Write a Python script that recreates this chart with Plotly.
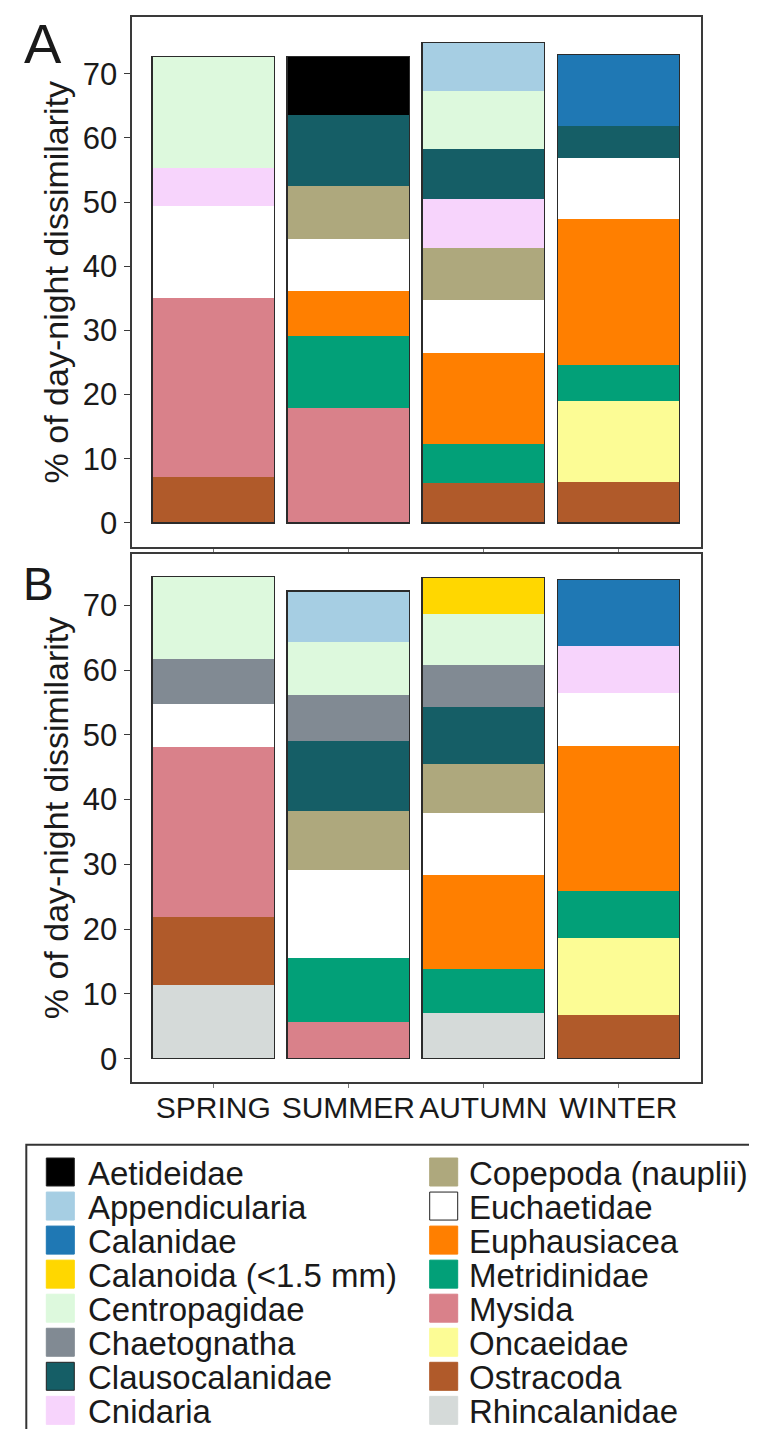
import plotly.graph_objects as go

seasons = ["SPRING", "SUMMER", "AUTUMN", "WINTER"]

taxa = ["Aetideidae", "Appendicularia", "Calanidae", "Calanoida (<1.5 mm)",
        "Centropagidae", "Chaetognatha", "Clausocalanidae", "Cnidaria",
        "Copepoda (nauplii)", "Euchaetidae", "Euphausiacea", "Metridinidae",
        "Mysida", "Oncaeidae", "Ostracoda", "Rhincalanidae"]

colors = ["#000000", "#a6cee3", "#1f78b4", "#ffd700",
          "#ddf9dd", "#818a93", "#155e66", "#f7d4fc",
          "#aea87d", "#ffffff", "#ff7f00", "#02a078",
          "#d9818a", "#fcfc95", "#b05a2a", "#d5dad9"]

# Panel A: % of day-night dissimilarity per taxon, [SPRING, SUMMER, AUTUMN, WINTER]
panel_a = {
    "Aetideidae":          [0.0, 9.1, 0.0, 0.0],
    "Appendicularia":      [0.0, 0.0, 7.6, 0.0],
    "Calanidae":           [0.0, 0.0, 0.0, 11.1],
    "Calanoida (<1.5 mm)": [0.0, 0.0, 0.0, 0.0],
    "Centropagidae":       [17.4, 0.0, 9.0, 0.0],
    "Chaetognatha":        [0.0, 0.0, 0.0, 0.0],
    "Clausocalanidae":     [0.0, 11.1, 7.9, 5.1],
    "Cnidaria":            [5.9, 0.0, 7.6, 0.0],
    "Copepoda (nauplii)":  [0.0, 8.3, 8.0, 0.0],
    "Euchaetidae":         [14.3, 8.1, 8.3, 9.5],
    "Euphausiacea":        [0.0, 6.9, 14.2, 22.7],
    "Metridinidae":        [0.0, 11.3, 6.1, 5.6],
    "Mysida":              [27.9, 17.9, 0.0, 0.0],
    "Oncaeidae":           [0.0, 0.0, 0.0, 12.6],
    "Ostracoda":           [7.2, 0.0, 6.2, 6.4],
    "Rhincalanidae":       [0.0, 0.0, 0.0, 0.0],
}

# Panel B
panel_b = {
    "Aetideidae":          [0.0, 0.0, 0.0, 0.0],
    "Appendicularia":      [0.0, 7.8, 0.0, 0.0],
    "Calanidae":           [0.0, 0.0, 0.0, 10.3],
    "Calanoida (<1.5 mm)": [0.0, 0.0, 5.7, 0.0],
    "Centropagidae":       [12.7, 8.2, 7.8, 0.0],
    "Chaetognatha":        [6.9, 7.2, 6.5, 0.0],
    "Clausocalanidae":     [0.0, 10.7, 8.8, 0.0],
    "Cnidaria":            [0.0, 0.0, 0.0, 7.2],
    "Copepoda (nauplii)":  [0.0, 9.1, 7.5, 0.0],
    "Euchaetidae":         [6.7, 13.6, 9.6, 8.2],
    "Euphausiacea":        [0.0, 0.0, 14.5, 22.4],
    "Metridinidae":        [0.0, 9.9, 6.8, 7.2],
    "Mysida":              [26.2, 5.7, 0.0, 0.0],
    "Oncaeidae":           [0.0, 0.0, 0.0, 11.9],
    "Ostracoda":           [10.5, 0.0, 0.0, 6.8],
    "Rhincalanidae":       [11.4, 0.0, 7.1, 0.0],
}

yticks = [0, 10, 20, 30, 40, 50, 60, 70]

W, H = 757, 1429
FONT = "Liberation Sans, Arial, Helvetica, sans-serif"
TXT = "#1a1a1a"


def px(x):
    return x / W


def py(y):
    return 1 - y / H


fig = go.Figure()
color_of = dict(zip(taxa, colors))

# stacked segments: alphabetical from top -> add in reverse order (first trace at bottom)
for data, xa, ya in [(panel_a, "x", "y"), (panel_b, "x2", "y2")]:
    for name in reversed(taxa):
        vals = data[name]
        xs = [s for s, v in zip(seasons, vals) if v > 0]
        ys = [v for v in vals if v > 0]
        if not ys:
            continue
        fig.add_trace(go.Bar(
            x=xs, y=ys, name=name, xaxis=xa, yaxis=ya,
            marker=dict(color=color_of[name], line=dict(width=0)),
            showlegend=False,
        ))

# outline of each whole bar (totals), drawn on overlaying axes
for data, xa, ya in [(panel_a, "x3", "y3"), (panel_b, "x4", "y4")]:
    totals = [round(sum(data[n][i] for n in taxa), 2) for i in range(len(seasons))]
    fig.add_trace(go.Bar(
        x=seasons, y=totals, xaxis=xa, yaxis=ya, name="total",
        marker=dict(color="rgba(0,0,0,0)", line=dict(color="#2b2b2b", width=1.2)),
        showlegend=False, hoverinfo="skip",
    ))

xdom = [px(124.3), px(692.7)]
ydom_a = [py(539.0), py(9.3)]
ydom_b = [py(1074.3), py(545.7)]
xrange = [-0.6, 3.61]
yrange_a = [-3.74, 78.78]
yrange_b = [-3.64, 77.97]

axis_common = dict(
    showline=True, linecolor="#3a3a3a", linewidth=1.5, mirror=True,
    showgrid=False, zeroline=False,
)
xcommon = dict(axis_common, domain=xdom, range=xrange, type="category",
               categoryorder="array", categoryarray=seasons,
               ticks="outside", ticklen=4, tickcolor="#777777", tickwidth=1)
ycommon = dict(axis_common, tickvals=yticks, ticks="outside", ticklen=7,
               tickcolor="#3a3a3a", tickwidth=1.2,
               tickfont=dict(family=FONT, size=31, color=TXT))

ytitle = dict(text="% of day-night dissimilarity",
              font=dict(family=FONT, size=34, color=TXT), standoff=4)

fig.update_layout(
    width=W, height=H, autosize=False,
    margin=dict(l=0, r=0, t=0, b=0),
    paper_bgcolor="white", plot_bgcolor="white",
    barmode="stack", bargap=0.093,
    showlegend=False,
    font=dict(family=FONT, color=TXT),
    xaxis=dict(xcommon, anchor="y", showticklabels=False),
    yaxis=dict(ycommon, domain=ydom_a, range=yrange_a, anchor="x", title=ytitle),
    xaxis2=dict(xcommon, anchor="y2", showticklabels=True, ticklabelstandoff=-6,
                tickfont=dict(family=FONT, size=30, color=TXT)),
    yaxis2=dict(ycommon, domain=ydom_b, range=yrange_b, anchor="x2", title=ytitle),
    xaxis3=dict(domain=xdom, range=xrange, type="category", categoryorder="array",
                categoryarray=seasons, overlaying="x", anchor="y3", visible=False),
    yaxis3=dict(range=yrange_a, overlaying="y", anchor="x3", visible=False),
    xaxis4=dict(domain=xdom, range=xrange, type="category", categoryorder="array",
                categoryarray=seasons, overlaying="x2", anchor="y4", visible=False),
    yaxis4=dict(range=yrange_b, overlaying="y2", anchor="x4", visible=False),
)

# panel letters
fig.add_annotation(text="A", x=px(35), y=py(35), xref="paper", yref="paper",
                   showarrow=False, xanchor="center", yanchor="middle",
                   font=dict(family=FONT, size=56, color=TXT))
fig.add_annotation(text="B", x=px(30), y=py(576), xref="paper", yref="paper",
                   showarrow=False, xanchor="center", yanchor="middle",
                   font=dict(family=FONT, size=46, color=TXT))

# legend box (extends past the right and bottom edges, as in the original)
shapes = [dict(type="rect", xref="paper", yref="paper",
               x0=px(18.3), x1=px(800), y0=py(1480), y1=py(1136.7),
               line=dict(color="#333333", width=2), fillcolor="rgba(0,0,0,0)")]

row_top, row_step, sq = 1150.0, 34.05, 28.0
cols = [(38.3, 78.3), (421.7, 459.3)]
for i, (name, col) in enumerate(zip(taxa, colors)):
    c, r = divmod(i, 8)
    sx, tx = cols[c]
    top = row_top + r * row_step
    edge = "#222222" if name in ("Euchaetidae", "Aetideidae", "Clausocalanidae") else col
    shapes.append(dict(type="rect", xref="paper", yref="paper",
                       x0=px(sx), x1=px(sx + sq), y0=py(top + sq), y1=py(top),
                       fillcolor=col, line=dict(color=edge, width=1)))
    fig.add_annotation(text=name, x=px(tx), y=py(top + sq / 2 + 1), xref="paper",
                       yref="paper", showarrow=False, xanchor="left", yanchor="middle",
                       font=dict(family=FONT, size=33, color=TXT))

fig.update_layout(shapes=shapes)
fig.write_html("out.html")
